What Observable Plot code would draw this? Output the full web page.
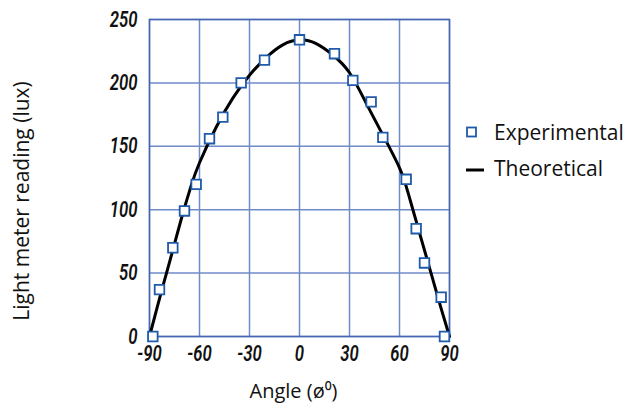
<!DOCTYPE html>
<html>
<head>
<meta charset="utf-8">
<script src="https://cdn.jsdelivr.net/npm/d3@7"></script>
<script src="https://cdn.jsdelivr.net/npm/@observablehq/plot@0.6"></script>
<style>
  html, body { margin: 0; padding: 0; background: #fff; }
  #wrap { position: relative; width: 629px; height: 410px; }
  .legend { position: absolute; left: 462px; font-family: "Open Sans", "Noto Sans", sans-serif; font-size: 21px; color: #111; display: flex; align-items: center; }
  .legend svg { margin-right: 10px; }
  g[aria-label="x-axis tick label"] text, g[aria-label="y-axis tick label"] text {
    font-family: Roboto, "DejaVu Sans", sans-serif;
    font-style: italic; font-weight: 600; font-size: 22px; fill: #111;
  }
</style>
</head>
<body>
<div id="wrap"></div>
<script>
// Experimental readings
const expAngle = [-88, -84, -76, -69, -62, -54, -46, -35, -21, 0, 21, 32, 43, 50, 64, 70, 75, 85, 87];
const expLux   = [0, 37, 70, 99, 120, 156, 173, 200, 218, 234, 223, 202, 185, 157, 124, 85, 58, 31, 0];
// Theoretical curve
const theoAngle = [-90, -85, -80, -75, -70, -65, -60, -50, -40, -30, -20, -10, 0, 10, 20, 30, 40, 50, 60, 65, 70, 75, 80, 85, 90];
const theoLux   = [0, 25, 49, 73, 97, 119, 137, 165, 188, 206, 220, 230, 234, 231, 222, 208, 184, 159, 133, 114, 91, 68, 45, 22, 0];
const xTicks = [-90, -60, -30, 0, 30, 60, 90];
const yTicks = [0, 50, 100, 150, 200, 250];

const expData = expAngle.map((a, i) => ({angle: a, lux: expLux[i]}));
const theoData = theoAngle.map((a, i) => ({angle: a, lux: theoLux[i]}));

const blue = "#4466b3";
const grid = "#6f8bc8";

const chart = Plot.plot({
  width: 629,
  height: 410,
  marginLeft: 149,
  marginRight: 180,
  marginTop: 19,
  marginBottom: 74,
  x: {domain: [-90, 90]},
  y: {domain: [0, 250]},
  marks: [
    Plot.gridX(xTicks, {stroke: grid, strokeOpacity: 1, strokeWidth: 1.5}),
    Plot.gridY(yTicks, {stroke: grid, strokeOpacity: 1, strokeWidth: 1.5}),
    Plot.frame({stroke: blue, strokeWidth: 1.5}),
    Plot.axisX(xTicks, {tickSize: 0, tickPadding: 9, tickFormat: d => String(d), label: null}),
    Plot.axisY(yTicks, {tickSize: 0, tickPadding: 12, tickFormat: d => String(d), label: null}),
    Plot.line(theoData, {x: "angle", y: "lux", curve: "natural", stroke: "#000", strokeWidth: 3}),
    Plot.dot(expData, {x: "angle", y: "lux", symbol: "square", r: 5.4, stroke: "#1f5ba8", strokeWidth: 1.8, fill: "#fff"}),
    Plot.text(["Angle (ø⁰)"], {frameAnchor: "bottom", dy: 61, dx: -6, fontSize: 20, fill: "#111", fontFamily: "Open Sans, Noto Sans, sans-serif"}),
    Plot.text(["Light meter reading (lux)"], {frameAnchor: "left", textAnchor: "middle", rotate: -90, dx: -127, dy: 23, fontSize: 21, fill: "#111", fontFamily: "Open Sans, Noto Sans, sans-serif"})
  ]
});
const wrap = document.getElementById("wrap");
wrap.appendChild(chart);

// condense the tick labels horizontally (reference uses a condensed italic face)
chart.querySelectorAll('g[aria-label="x-axis tick label"] text, g[aria-label="y-axis tick label"] text').forEach(t => {
  const len = t.getComputedTextLength();
  t.setAttribute("textLength", (len * 0.76).toFixed(1));
  t.setAttribute("lengthAdjust", "spacingAndGlyphs");
});

const legendItems = [
  {label: "Experimental", top: 118, icon: `<svg width="22" height="26"><rect x="5" y="8.5" width="9" height="9" fill="#fff" stroke="#1f5ba8" stroke-width="1.8"/></svg>`},
  {label: "Theoretical", top: 154, icon: `<svg width="22" height="26"><line x1="4" x2="25" y1="15" y2="15" stroke="#000" stroke-width="3"/></svg>`}
];
legendItems.forEach(it => {
  const d = document.createElement("div");
  d.className = "legend";
  d.style.top = it.top + "px";
  d.innerHTML = it.icon + `<span>${it.label}</span>`;
  wrap.appendChild(d);
});
</script>
</body>
</html>
